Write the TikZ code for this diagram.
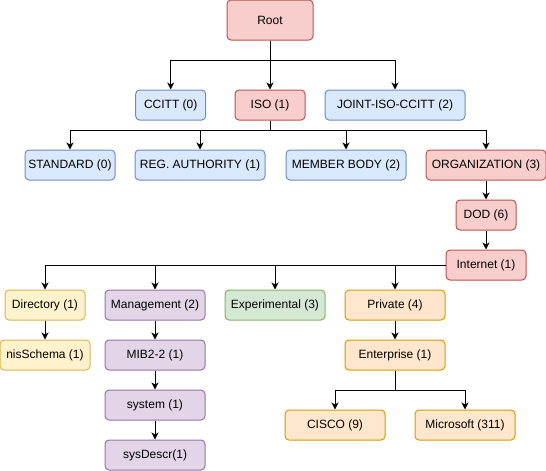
\documentclass[tikz,border=0pt]{standalone}
\usepackage{fontspec}
\setmainfont{Liberation Sans}
\usepackage{tikz}
\usetikzlibrary{arrows,arrows.meta}

\definecolor{redfill}{HTML}{F8CECC}
\definecolor{redline}{HTML}{B85450}
\definecolor{bluefill}{HTML}{DAE8FC}
\definecolor{blueline}{HTML}{6C8EBF}
\definecolor{yellowfill}{HTML}{FFF2CC}
\definecolor{yellowline}{HTML}{D6B656}
\definecolor{purplefill}{HTML}{E1D5E7}
\definecolor{purpleline}{HTML}{9673A6}
\definecolor{greenfill}{HTML}{D5E8D4}
\definecolor{greenline}{HTML}{82B366}
\definecolor{orangefill}{HTML}{FFE6CC}
\definecolor{orangeline}{HTML}{D79B00}

\begin{document}
\begin{tikzpicture}[x=1pt, y=-1pt,
  font=\fontsize{12}{14}\selectfont,
  box/.style={draw, line width=1pt, rounded corners=4pt, inner sep=0pt,
    minimum height=30pt, minimum width=100pt, align=center},
  redbox/.style={box, fill=redfill, draw=redline},
  bluebox/.style={box, fill=bluefill, draw=blueline},
  yellowbox/.style={box, fill=yellowfill, draw=yellowline},
  purplebox/.style={box, fill=purplefill, draw=purpleline},
  greenbox/.style={box, fill=greenfill, draw=greenline},
  orangebox/.style={box, fill=orangefill, draw=orangeline},
  link/.style={->, >={Stealth[length=7pt, width=7pt, inset=2pt]}, line width=1pt}]
\useasboundingbox (0,0) rectangle (546,471);

\node[redbox, minimum width=86pt, minimum height=40pt] (1) at (270,20) {Root};

\node[bluebox, minimum width=70pt] (2) at (170.7,105) {CCITT (0)};
\node[redbox, minimum width=70pt] (3) at (270,105) {ISO (1)};
\node[bluebox, minimum width=140pt] (4) at (395,105) {JOINT-ISO-CCITT (2)};

\node[bluebox, minimum width=90pt] (5) at (70,165) {STANDARD (0)};
\node[bluebox, minimum width=130pt] (6) at (200,165) {REG. AUTHORITY (1)};
\node[bluebox, minimum width=120pt] (7) at (346,165) {MEMBER BODY (2)};
\node[redbox, minimum width=120pt] (8) at (486,165) {ORGANIZATION (3)};

\node[redbox, minimum width=60pt] (9) at (486,215) {DOD (6)};
\node[redbox, minimum width=80pt] (10) at (486,265) {Internet (1)};

\node[yellowbox, minimum width=80pt] (11) at (45,305) {Directory (1)};
\node[yellowbox, minimum width=90pt] (12) at (45,355) {nisSchema (1)};

\node[purplebox] (13) at (155,305) {Management (2)};
\node[purplebox] (14) at (155,355) {MIB2-2 (1)};
\node[purplebox] (15) at (155,405) {system (1)};
\node[purplebox] (16) at (155,455) {sysDescr(1)};

\node[greenbox] (17) at (275,305) {Experimental (3)};

\node[orangebox] (18) at (395,305) {Private (4)};
\node[orangebox] (19) at (395,355) {Enterprise (1)};
\node[orangebox] (20) at (335,425) {CISCO (9)};
\node[orangebox] (21) at (465,425) {Microsoft (311)};

\draw[link] (1.south) -- ++(0,20) -| (2.north);
\draw[link] (1.south) -- (3.north);
\draw[link] (1.south) -- ++(0,20) -| (4.north);

\draw[link] (3.south) -- ++(0,10) -| (5.north);
\draw[link] (3.south) -- ++(0,10) -| (6.north);
\draw[link] (3.south) -- ++(0,10) -| (7.north);
\draw[link] (3.south) -- ++(0,10) -| (8.north);

\draw[link] (8) -- (9);
\draw[link] (9) -- (10);

\draw[link] (10.west) -| (11.north);
\draw[link] (10.west) -| (13.north);
\draw[link] (10.west) -| (17.north);
\draw[link] (10.west) -| (18.north);

\draw[link] (11) -- (12);

\draw[link] (13) -- (14);
\draw[link] (14) -- (15);
\draw[link] (15) -- (16);

\draw[link] (18) -- (19);
\draw[link] (19.south) -- ++(0,20) -| (20.north);
\draw[link] (19.south) -- ++(0,20) -| (21.north);

\end{tikzpicture}
\end{document}
